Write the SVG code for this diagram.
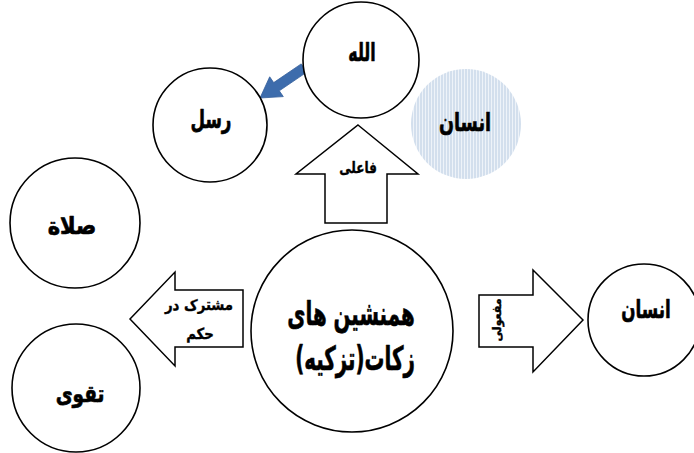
<svg xmlns="http://www.w3.org/2000/svg" width="694" height="453" viewBox="0 0 694 453">
<style>
.c{fill:#fff;stroke:#000;stroke-width:1.6}
.a{fill:#fff;stroke:#000;stroke-width:1.5;stroke-linejoin:miter}
.t{font-family:"DejaVu Sans",sans-serif;font-weight:bold;fill:#000;stroke:#000;stroke-width:0.6;stroke-linejoin:round;text-anchor:middle;dominant-baseline:central}
.s{stroke-width:0.35}
</style>
<defs>
<pattern id="vs" width="3" height="4" patternUnits="userSpaceOnUse">
<rect width="3" height="4" fill="#d3dfed"/>
<rect x="2" width="1" height="4" fill="#eef3f9"/>
</pattern>
</defs>
<rect width="694" height="453" fill="#fff"/>
<g id="connectors">
<polygon class="a" points="358,125 418,174 387,174 387,223 325,223 325,174 296,174"/>
<text class="t s" font-size="14" transform="translate(358,167) scale(0.86,1.1)">فاعلی</text>
<polygon class="a" points="130,319 175,272 175,290 243,290 243,347 175,347 175,366"/>
<text class="t s" font-size="14" transform="translate(199,305) scale(0.95,1.1)">مشترک در</text>
<text class="t s" font-size="14" transform="translate(200,334) scale(0.95,1.1)">حکم</text>
<polygon class="a" points="583,320 533,270 533,295 479,295 479,347 533,347 533,372"/>
<text class="t s" font-size="11" transform="translate(497,320) rotate(-90) scale(1,1.1)">مفعولی</text>
<polygon fill="#3d6cac" stroke="#35609c" stroke-width="0.8" points="301.2,63.9 273.7,82.6 269.7,76.8 260,98 283.3,96.6 279.3,90.8 306.8,72.1"/>
</g>
<g id="node-allah">
<circle class="c" cx="361" cy="60" r="58"/>
<text class="t" font-size="22" transform="translate(362,52) scale(0.72,1.15)">الله</text>
</g>
<g id="node-rusul">
<circle class="c" cx="210" cy="125" r="57"/>
<text class="t" font-size="22" transform="translate(211,119) scale(0.76,1.15)">رسل</text>
</g>
<g id="node-insan-blue">
<circle cx="466" cy="124" r="55" fill="url(#vs)"/>
<text class="t" font-size="22" transform="translate(465,122) scale(0.8,1.15)">انسان</text>
</g>
<g id="node-salat">
<circle class="c" cx="75" cy="223" r="65"/>
<text class="t" font-size="21" transform="translate(72,225) scale(1,1.15)">صلاة</text>
</g>
<g id="node-taqwa">
<circle class="c" cx="76" cy="388" r="64"/>
<text class="t" font-size="21" transform="translate(80,394) scale(0.88,1.15)">تقوی</text>
</g>
<g id="node-center">
<circle class="c" cx="352" cy="331" r="101"/>
<text class="t" font-size="30" transform="translate(351,313) scale(0.66,1.1)">همنشین های</text>
<text class="t" font-size="30" transform="translate(355,358) scale(0.66,1.1)">زکات(تزکیه)</text>
</g>
<g id="node-insan">
<circle class="c" cx="644" cy="320" r="56"/>
<text class="t" font-size="22" transform="translate(646,309) scale(0.76,1.15)">انسان</text>
</g>
</svg>
